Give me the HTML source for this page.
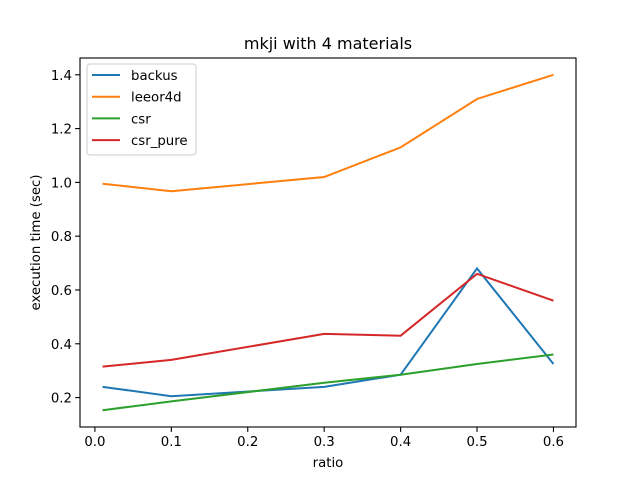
<!DOCTYPE html>
<html><head><meta charset="utf-8"><style>
body{margin:0;background:#fff;font-family:"Liberation Sans","DejaVu Sans",sans-serif}
svg text{font-family:"DejaVu Sans","Liberation Sans",sans-serif;fill:#000}
</style></head><body>
<svg id="c" width="640" height="480" xmlns="http://www.w3.org/2000/svg">
<rect width="640" height="480" fill="#fff"/>
</svg>
<script>
const xs = [0.01, 0.1, 0.3, 0.4, 0.5, 0.6];
const backus = [0.24, 0.205, 0.24, 0.285, 0.68, 0.325];
const leeor4d = [0.995, 0.967, 1.02, 1.13, 1.31, 1.40];
const csr = [0.153, 0.186, 0.255, 0.285, 0.325, 0.36];
const csrPure = [0.315, 0.34, 0.437, 0.43, 0.66, 0.56];
const seriesNames = ["backus", "leeor4d", "csr", "csr_pure"];
const xTicks = [0.0, 0.1, 0.2, 0.3, 0.4, 0.5, 0.6];
const yTicks = [0.2, 0.4, 0.6, 0.8, 1.0, 1.2, 1.4];
const colors = ["#1f77b4", "#ff7f0e", "#2ca02c", "#d62728"];
const all = [backus, leeor4d, csr, csrPure];
const svg = document.getElementById('c');
const NS = "http://www.w3.org/2000/svg";
const L = 80, R = 576, T = 58, B = 427;
const xmin0 = Math.min(...xs), xmax0 = Math.max(...xs), xm = (xmax0 - xmin0) * 0.05;
const flat = all.flat();
const ymin0 = Math.min(...flat), ymax0 = Math.max(...flat), ym = (ymax0 - ymin0) * 0.05;
const x0 = xmin0 - xm, x1 = xmax0 + xm, y0 = ymin0 - ym, y1 = ymax0 + ym;
const X = v => L + (v - x0) / (x1 - x0) * (R - L);
const Y = v => B - (v - y0) / (y1 - y0) * (B - T);
function mk(tag, attrs, parent) { const e = document.createElementNS(NS, tag); for (const k in attrs) e.setAttribute(k, attrs[k]); (parent || svg).appendChild(e); return e; }
xTicks.forEach(t => {
  const g = mk('g', {});
  
  
  mk('line', {x1: X(t), x2: X(t), y1: B, y2: B + 4.9, stroke: '#000', 'stroke-width': 1.1}, g);
  const tx = mk('text', {x: X(t), y: B + 19, 'font-size': 13.3, 'text-anchor': 'middle'}, g);
  tx.textContent = t.toFixed(1);
});
yTicks.forEach(t => {
  const g = mk('g', {});
  
  
  mk('line', {x1: L - 4.9, x2: L, y1: Y(t), y2: Y(t), stroke: '#000', 'stroke-width': 1.1}, g);
  const tx = mk('text', {x: L - 8, y: Y(t) + 5, 'font-size': 13.3, 'text-anchor': 'end'}, g);
  tx.textContent = t.toFixed(1);
});
all.forEach((s, i) => {
  const p = mk('polyline', {points: s.map((v, j) => X(xs[j]) + ',' + Y(v)).join(' '), fill: 'none', stroke: colors[i], 'stroke-width': 2});
  
  
});
const frame = mk('rect', {x: L, y: T, width: R - L, height: B - T, fill: 'none', stroke: '#000', 'stroke-width': 1.1});


const title = mk('text', {x: (L + R) / 2, y: 49, 'font-size': 16, 'text-anchor': 'middle'});
title.textContent = 'mkji with 4 materials';


const xl = mk('text', {x: (L + R) / 2, y: 467, 'font-size': 13.3, 'text-anchor': 'middle'});
xl.textContent = 'ratio';


const yl = mk('text', {x: 0, y: 0, 'font-size': 13.3, 'text-anchor': 'middle', transform: 'translate(40,' + ((T + B) / 2) + ') rotate(-90)'});
yl.textContent = 'execution time (sec)';


const lg = mk('g', {});


mk('rect', {x: 87, y: 64, width: 109, height: 91, rx: 3, fill: '#fff', 'fill-opacity': 0.8, stroke: '#ccc', 'stroke-width': 1}, lg);
seriesNames.forEach((n, i) => {
  const e = mk('g', {}, lg);
  
  
  const yy = 75 + i * 21.7;
  mk('line', {x1: 92, x2: 120, y1: yy, y2: yy, stroke: colors[i], 'stroke-width': 2}, e);
  const t = mk('text', {x: 131, y: yy + 5, 'font-size': 13.3}, e);
  t.textContent = n;
});
</script>
</body></html>
